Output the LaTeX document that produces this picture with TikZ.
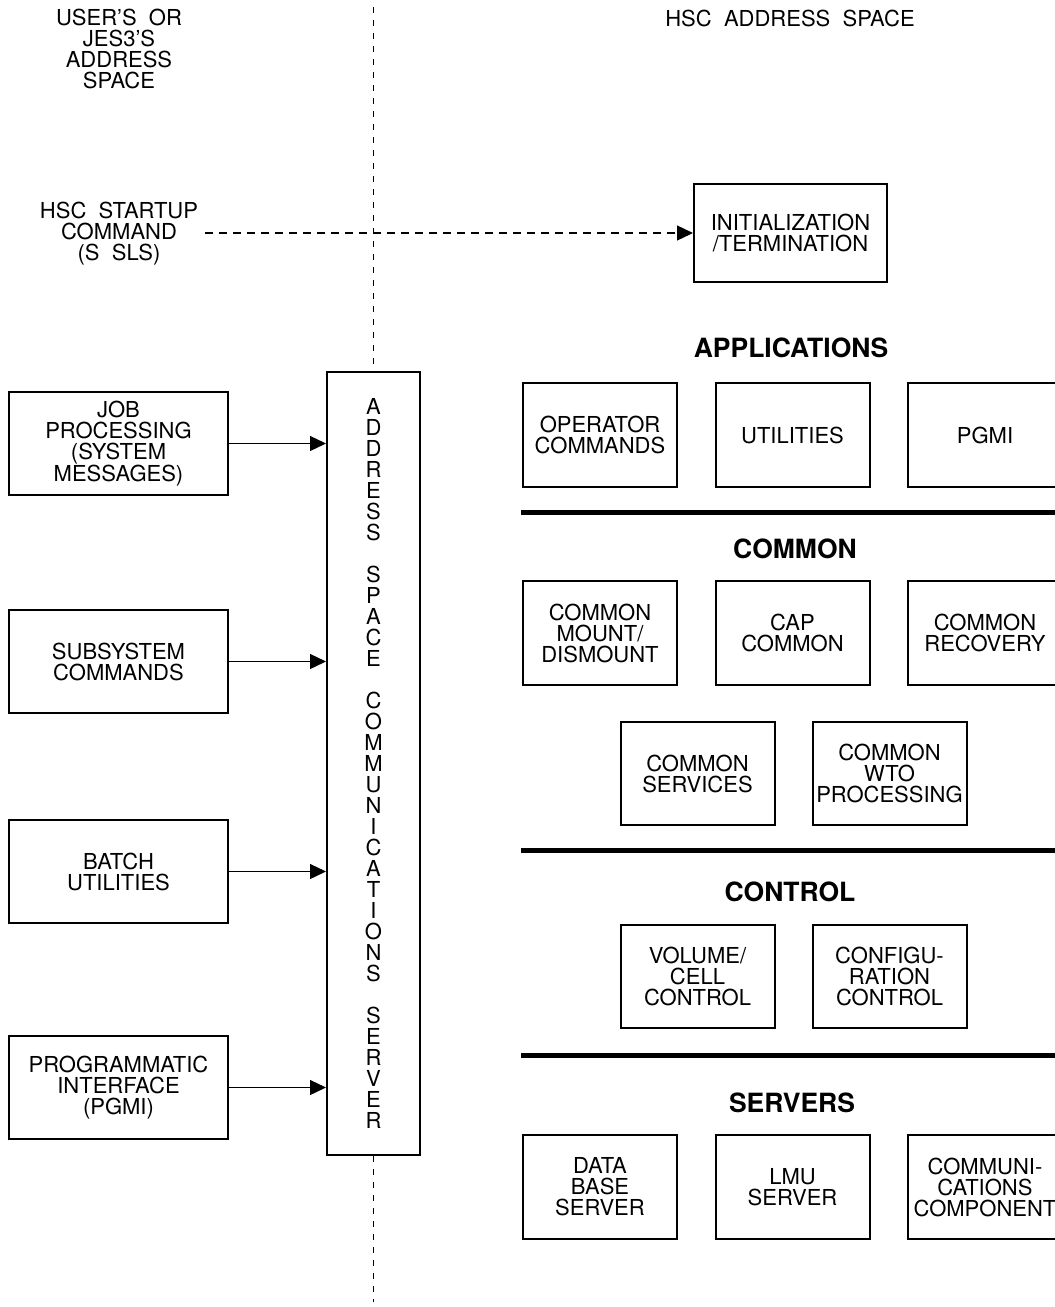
\documentclass[tikz,border=0pt]{standalone}
\usepackage{fontspec}
\setmainfont{TeX Gyre Heros}
\usetikzlibrary{arrows.meta}
\newcommand{\boxfont}{\fontsize{22}{21}\selectfont}
\newcommand{\headfont}{\fontsize{26.5}{26}\selectfont\bfseries}
\tikzset{
  box/.style={draw, line width=2pt, align=center, inner sep=0pt, font=\boxfont},
  plain/.style={align=center, inner sep=0pt, font=\boxfont},
  head/.style={inner sep=0pt, font=\headfont},
  conn/.style={line width=1.3pt, -{Triangle[length=16pt,width=15pt]}},
  dashconn/.style={line width=1.3pt, dash pattern=on 8pt off 6pt, -{Triangle[length=16pt,width=15pt]}},
  dashline/.style={line width=1.2pt, dash pattern=on 6pt off 7pt},
  sep/.style={line width=5pt},
  appbox/.style={box, minimum width=154pt, minimum height=104pt},
  sidebox/.style={box, minimum width=219pt, minimum height=103pt},
}
\begin{document}
\begin{tikzpicture}[x=1pt,y=-1pt]
\useasboundingbox (0,0) rectangle (1055,1307);
% titles
\node[plain] (ttl) at (119,49) {USER’S\ \ OR\\JES3’S\\ADDRESS\\SPACE};
\node[plain] (hsc) at (790,18) {HSC\ \ ADDRESS\ \ SPACE};
\node[plain] (start) at (119,234) {HSC\ \ STARTUP\\COMMAND\\(S\ \ SLS)};
% init box
\node[box, minimum width=193pt, minimum height=98pt] (init) at (790.5,233) {INITIALIZATION\\/TERMINATION};
\coordinate (dstart) at (205,233);
\draw[dashconn] (dstart) -- (init.west);
% address space communications server
\node[box, minimum width=93pt, minimum height=783pt] (ascs) at (373.5,763.5)
 {A\\D\\D\\R\\E\\S\\S\\~\\S\\P\\A\\C\\E\\~\\C\\O\\M\\M\\U\\N\\I\\C\\A\\T\\I\\O\\N\\S\\~\\S\\E\\R\\V\\E\\R};
\coordinate (vtop) at (373.5,7);
\coordinate (vbot) at (373.5,1302);
\draw[dashline] (vtop) -- (ascs.north);
\draw[dashline] (ascs.south) -- (vbot);
% left boxes
\node[sidebox] (job) at (118.5,443.5) {JOB\\PROCESSING\\(SYSTEM\\MESSAGES)};
\node[sidebox] (sub) at (118.5,661.5) {SUBSYSTEM\\COMMANDS};
\node[sidebox] (bat) at (118.5,871.5) {BATCH\\UTILITIES};
\node[sidebox] (pgm) at (118.5,1087.5) {PROGRAMMATIC\\INTERFACE\\(PGMI)};
\draw[conn] (job.east) -- (ascs.west |- job.east);
\draw[conn] (sub.east) -- (ascs.west |- sub.east);
\draw[conn] (bat.east) -- (ascs.west |- bat.east);
\draw[conn] (pgm.east) -- (ascs.west |- pgm.east);
% applications
\node[head] (happ) at (791,348) {APPLICATIONS};
\node[appbox] (opc) at (600,435) {OPERATOR\\COMMANDS};
\node[appbox] (utl) at (792.5,435) {UTILITIES};
\node[appbox] (pgmi) at (985,435) {PGMI};
\coordinate (s1a) at (521,512.5);
\coordinate (s1b) at (1060,512.5);
\draw[sep] (s1a) -- (s1b);
% common
\node[head] (hcom) at (795,549) {COMMON};
\node[appbox] (cmd) at (600,633) {COMMON\\MOUNT/\\DISMOUNT};
\node[appbox] (cap) at (792.5,633) {CAP\\COMMON};
\node[appbox] (crec) at (985,633) {COMMON\\RECOVERY};
\node[appbox, minimum height=103pt] (csrv) at (697.5,773.5) {COMMON\\SERVICES};
\node[appbox, minimum height=103pt] (cwto) at (889.5,773.5) {COMMON\\WTO\\PROCESSING};
\coordinate (s2a) at (521,850);
\coordinate (s2b) at (1060,850);
\draw[sep] (s2a) -- (s2b);
% control
\node[head] (hctl) at (790,892) {CONTROL};
\node[appbox, minimum height=103pt] (vcc) at (697.5,976.5) {VOLUME/\\CELL\\CONTROL};
\node[appbox, minimum height=103pt] (cfg) at (889.5,976.5) {CONFIGU-\\RATION\\CONTROL};
\coordinate (s3a) at (521,1055);
\coordinate (s3b) at (1060,1055);
\draw[sep] (s3a) -- (s3b);
% servers
\node[head] (hsrv) at (792,1103) {SERVERS};
\node[appbox] (dbs) at (600,1187) {DATA\\BASE\\SERVER};
\node[appbox] (lmu) at (792.5,1187) {LMU\\SERVER};
\node[appbox] (ccm) at (985,1187) {COMMUNI-\\CATIONS\\COMPONENT};
\end{tikzpicture}
\end{document}
